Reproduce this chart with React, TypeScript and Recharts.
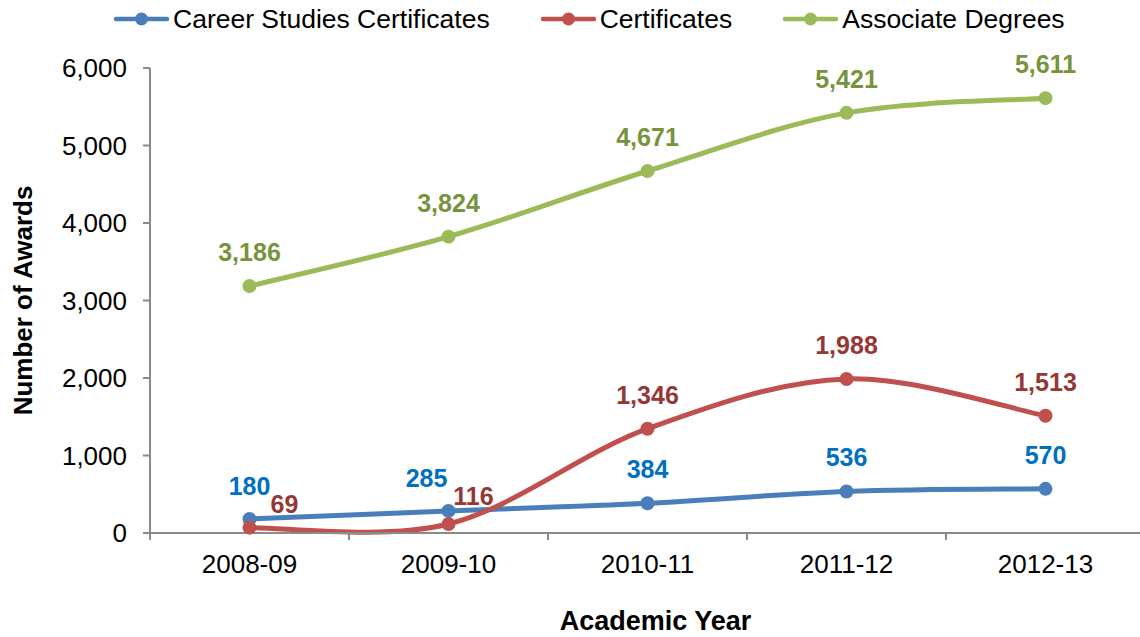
import React from "react";
import { LineChart, Line, XAxis, YAxis, LabelList, Label } from "recharts";

// ---- data ----
const years = ["2008-09", "2009-10", "2010-11", "2011-12", "2012-13"];
const careerStudies = [180, 285, 384, 536, 570];
const certificates = [69, 116, 1346, 1988, 1513];
const associateDegrees = [3186, 3824, 4671, 5421, 5611];
const yTicks = [0, 1000, 2000, 3000, 4000, 5000, 6000];

const data = years.map((year, i) => ({
  year,
  career: careerStudies[i],
  cert: certificates[i],
  assoc: associateDegrees[i],
}));

const FONT = '"Liberation Sans", Arial, sans-serif';
const AXIS = "#8a8a8a";

const CHART_W = 1150;
const CHART_H = 637;
const MARGIN = { top: 68, right: 5, bottom: 0, left: 0 };
const Y_AXIS_W = 150;
const X_AXIS_H = 104;
const STEP = (CHART_W - MARGIN.left - MARGIN.right - Y_AXIS_W) / years.length;
const TICK_SIZE = 7;
const TICK_MARGIN = 2;

interface Series {
  key: "career" | "cert" | "assoc";
  name: string;
  line: string;
  text: string;
  // label nudges, per point
  dx: number[];
  dy: number[];
}

const series: Series[] = [
  {
    key: "career",
    name: "Career Studies Certificates",
    line: "#4a7ebb",
    text: "#0070c0",
    dx: [0, -22, 0, 0, 0],
    dy: [-24, -24, -25, -25, -25],
  },
  {
    key: "cert",
    name: "Certificates",
    line: "#c0504d",
    text: "#953735",
    dx: [35, 25, 0, 0, 0],
    dy: [-15, -19, -25, -25, -25],
  },
  {
    key: "assoc",
    name: "Associate Degrees",
    line: "#9bbb59",
    text: "#77933c",
    dx: [0, 0, 0, 0, 0],
    dy: [-25, -25, -25, -25, -25],
  },
];

// Excel-style smoothed line (uniform Catmull-Rom as cubic beziers)
function excelSmooth(context: any) {
  let pts: [number, number][] = [];
  let area = NaN;
  return {
    areaStart() {
      area = 0;
    },
    areaEnd() {
      area = NaN;
    },
    lineStart() {
      pts = [];
    },
    point(x: number, y: number) {
      pts.push([+x, +y]);
    },
    lineEnd() {
      const n = pts.length;
      if (n === 0) return;
      context.moveTo(pts[0][0], pts[0][1]);
      for (let i = 0; i < n - 1; i++) {
        const p0 = pts[i - 1] || pts[i];
        const p1 = pts[i];
        const p2 = pts[i + 1];
        const p3 = pts[i + 2] || pts[i + 1];
        context.bezierCurveTo(
          p1[0] + (p2[0] - p0[0]) / 6,
          p1[1] + (p2[1] - p0[1]) / 6,
          p2[0] - (p3[0] - p1[0]) / 6,
          p2[1] - (p3[1] - p1[1]) / 6,
          p2[0],
          p2[1]
        );
      }
      if (area === 0) context.closePath();
    },
  };
}

// eslint-disable-next-line @typescript-eslint/no-explicit-any
function YearTick({ x, y, payload }: any) {
  const axisY = y - TICK_SIZE - TICK_MARGIN;
  const bx = x - STEP / 2;
  return (
    <g>
      <line x1={bx} y1={axisY} x2={bx} y2={axisY + TICK_SIZE} stroke={AXIS} strokeWidth={2} />
      <text
        x={x}
        y={axisY + 22}
        dy="0.71em"
        textAnchor="middle"
        fill="#000"
        fontSize={26}
        fontFamily={FONT}
      >
        {payload.value}
      </text>
    </g>
  );
}

function makeValueLabel(s: Series) {
  // eslint-disable-next-line @typescript-eslint/no-explicit-any
  return (props: any) => {
    const { x, y, value, index } = props;
    return (
      <text
        x={x + (s.dx[index] ?? 0)}
        y={y + (s.dy[index] ?? -25)}
        textAnchor="middle"
        fill={s.text}
        fontSize={25}
        fontWeight="bold"
        fontFamily={FONT}
      >
        {Number(value).toLocaleString("en-US")}
      </text>
    );
  };
}

// eslint-disable-next-line @typescript-eslint/no-explicit-any
function YTitle({ viewBox }: any) {
  const cx = viewBox.x + 22.5;
  const cy = viewBox.y + viewBox.height / 2;
  return (
    <text
      x={cx}
      y={cy}
      dy="0.36em"
      transform={`rotate(-90 ${cx} ${cy})`}
      textAnchor="middle"
      fill="#000"
      fontSize={26}
      fontWeight="bold"
      fontFamily={FONT}
    >
      Number of Awards
    </text>
  );
}

// eslint-disable-next-line @typescript-eslint/no-explicit-any
function XTitle({ viewBox }: any) {
  const cx = viewBox.x + viewBox.width / 2 + 8;
  return (
    <text
      x={cx}
      y={viewBox.y + viewBox.height - 7}
      textAnchor="middle"
      fill="#000"
      fontSize={27}
      fontWeight="bold"
      fontFamily={FONT}
    >
      Academic Year
    </text>
  );
}

function LegendRow() {
  return (
    <div style={legendStyle}>
      {series.map((s, i) => (
        <div key={s.key} style={{ display: "flex", alignItems: "center", marginLeft: i ? 50 : 0 }}>
          <svg width={57} height={16}>
            <line x1={3} y1={8} x2={54} y2={8} stroke={s.line} strokeWidth={4.5} strokeLinecap="round" />
            <circle cx={28.5} cy={8} r={6.5} fill={s.line} />
          </svg>
          <span style={{ marginLeft: 3 }}>{s.name}</span>
        </div>
      ))}
    </div>
  );
}

export default function App() {
  return (
    <div style={wrapStyle}>
      <LegendRow />
      <LineChart width={CHART_W} height={CHART_H} data={data} margin={MARGIN}>
        <XAxis
          dataKey="year"
          height={X_AXIS_H}
          padding={{ left: STEP / 2, right: STEP / 2 }}
          axisLine={{ stroke: AXIS, strokeWidth: 2 }}
          tickLine={false}
          tickSize={TICK_SIZE}
          tickMargin={TICK_MARGIN}
          tick={<YearTick />}
          interval={0}
        >
          <Label content={<XTitle />} />
        </XAxis>
        <YAxis
          width={Y_AXIS_W}
          domain={[0, 6000]}
          ticks={yTicks}
          stroke={AXIS}
          axisLine={{ stroke: AXIS, strokeWidth: 2 }}
          tickLine={{ stroke: AXIS, strokeWidth: 2 }}
          tickSize={TICK_SIZE}
          tickMargin={16}
          tick={{ fill: "#000", fontSize: 26, fontFamily: FONT }}
          tickFormatter={(v: number) => v.toLocaleString("en-US")}
        >
          <Label content={<YTitle />} />
        </YAxis>
        {series.map((s) => (
          <Line
            key={s.key}
            dataKey={s.key}
            name={s.name}
            type={excelSmooth as any}
            stroke={s.line}
            strokeWidth={5}
            dot={{ r: 7, fill: s.line, stroke: s.line, strokeWidth: 0 }}
            activeDot={false}
            isAnimationActive={false}
          >
            <LabelList dataKey={s.key} content={makeValueLabel(s)} />
          </Line>
        ))}
      </LineChart>
    </div>
  );
}

const wrapStyle: React.CSSProperties = {
  position: "absolute",
  left: 0,
  top: 0,
  width: 1140,
  height: 637,
  overflow: "hidden",
  background: "#fff",
};

const legendStyle: React.CSSProperties = {
  position: "absolute",
  top: 0,
  left: 113,
  height: 38,
  display: "flex",
  alignItems: "center",
  fontFamily: FONT,
  fontSize: 26.5,
  color: "#000",
  whiteSpace: "nowrap",
  zIndex: 1,
};
